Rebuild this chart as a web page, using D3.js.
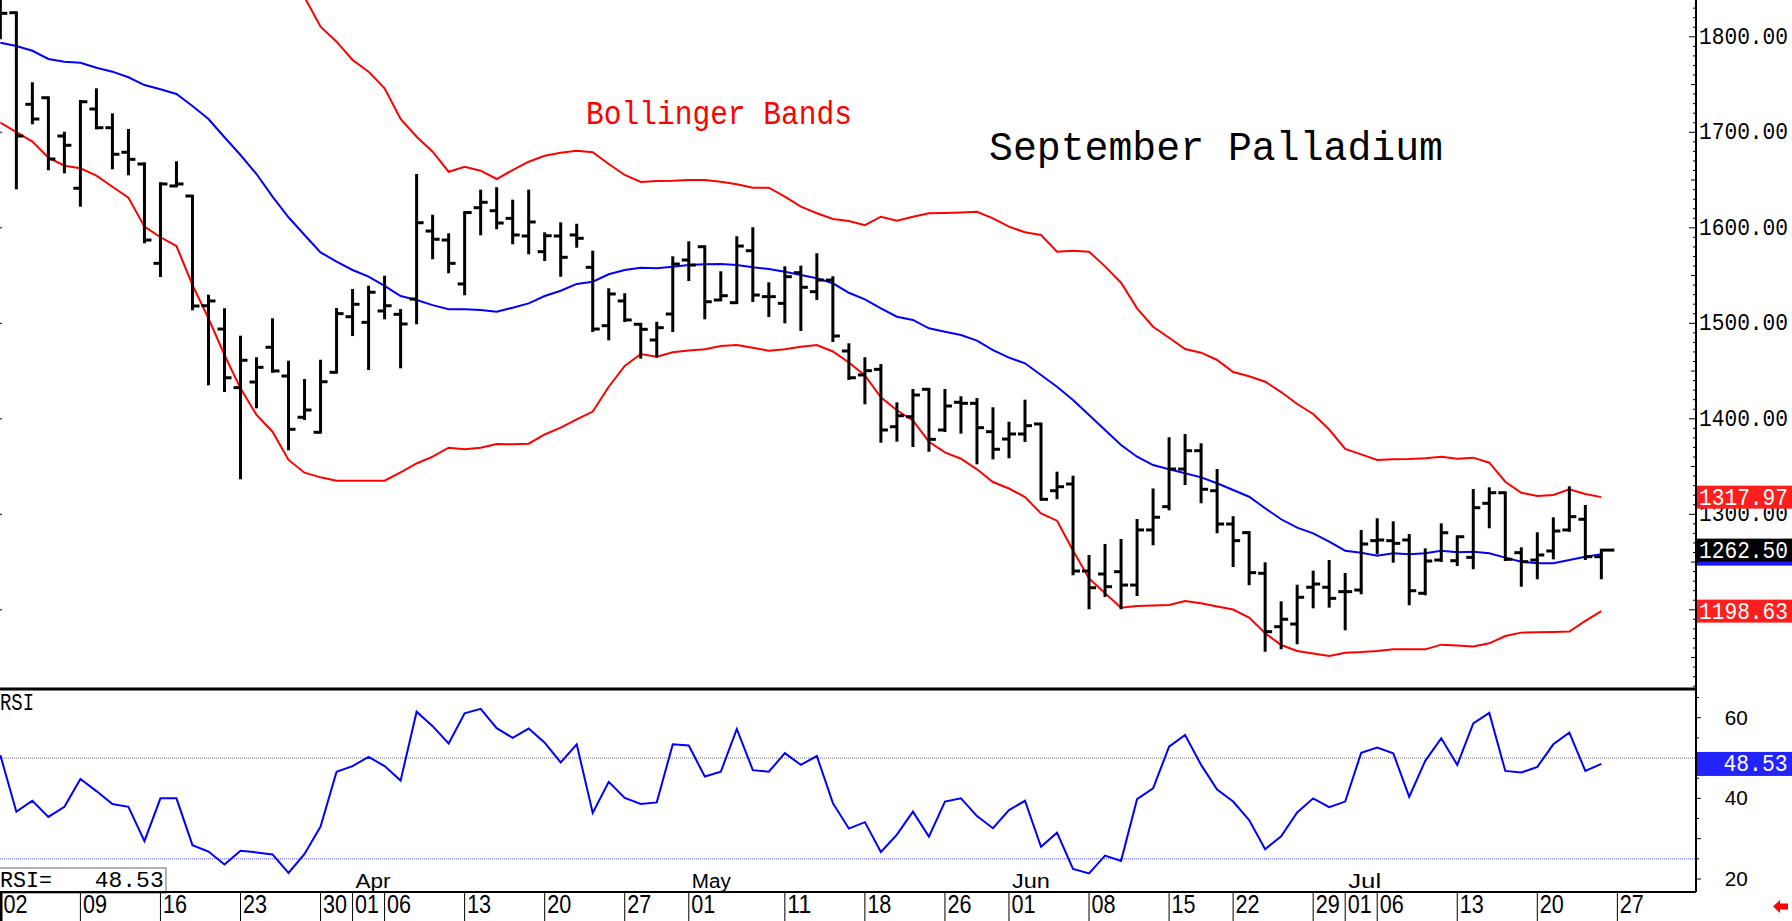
<!DOCTYPE html>
<html><head><meta charset="utf-8">
<script src="https://cdn.jsdelivr.net/npm/d3@7"></script>
<style>html,body{margin:0;padding:0;background:#fff;overflow:hidden}</style>
</head><body>
<svg id="chart" width="1792" height="921"></svg>
<script>
// ---------------- DATA ----------------
const opens  = [1832,1825.2,1729.3,1736.2,1696.1,1641.4,1724.4,1704.8,1679.1,1666.8,1562.8,1643.8,1633.3,1518.4,1494.0,1432.6,1438.5,1474.9,1444.8,1401.6,1385.9,1448.7,1506.9,1501.0,1512.9,1509.4,1525.4,1596.6,1587.2,1541.2,1621.0,1617.9,1609.9,1591.4,1575.0,1591.4,1592.5,1558.6,1497.5,1523.4,1499.0,1482.5,1509.7,1566.3,1580.2,1524.4,1521.6,1576.0,1527.9,1520.9,1553.0,1533.1,1545.3,1471.0,1445.9,1451.8,1391.7,1402.2,1430.9,1388.3,1417.3,1416.2,1386.5,1378.8,1384.1,1394.6,1324.7,1331.7,1240.6,1237.5,1239.9,1225.9,1283.6,1308.0,1347.4,1366.6,1324.7,1289.8,1280.8,1238.2,1182.3,1185.1,1223.6,1223.6,1219.0,1220.7,1272.4,1272.4,1273.1,1217.3,1252.1,1251.4,1254.9,1311.5,1322.6,1259.8,1252.1,1261.6,1283.6,1294.8,1255.6];
const highs  = [1845,1825.2,1751.3,1736.2,1699.6,1732.8,1745.0,1718.8,1702.4,1667.5,1646.6,1668.6,1633.3,1528.9,1514.7,1486.0,1463.4,1504.2,1459.8,1440.6,1460.8,1515.0,1534.9,1538.3,1548.8,1513.9,1655.3,1612.7,1593.2,1616.0,1638.9,1641.4,1628.4,1638.9,1594.2,1604.7,1603.2,1575.0,1535.6,1530.4,1499.3,1500.6,1569.1,1584.8,1580.2,1553.4,1590.1,1599.5,1541.9,1558.6,1559.3,1572.3,1548.2,1478.0,1463.4,1456.3,1416.2,1430.2,1431.2,1430.2,1422.5,1420.7,1411.0,1395.9,1419.0,1394.6,1343.6,1339.4,1256.3,1267.9,1273.1,1294.0,1326.0,1379.6,1383.0,1373.3,1346.4,1296.9,1281.2,1248.7,1207.8,1225.2,1239.9,1251.1,1237.5,1282.5,1294.8,1291.6,1278.3,1263.3,1289.5,1276.5,1325.4,1327.2,1322.6,1264.4,1280.1,1295.8,1328.3,1308.7,1262.6];
const lows   = [1798.4,1641.4,1709.4,1661.3,1658.1,1623.1,1704.2,1662.3,1656.0,1584.8,1549.5,1643.8,1514.7,1436.1,1429.1,1337.7,1412.0,1449.3,1368.1,1399.8,1385.9,1448.7,1487.7,1452.1,1505.2,1453.9,1500.0,1568.1,1553.4,1530.4,1593.2,1599.5,1583.8,1573.3,1566.3,1549.8,1580.2,1491.9,1483.2,1502.4,1464.0,1465.0,1491.9,1545.3,1505.2,1524.4,1521.6,1523.4,1507.6,1501.0,1493.0,1525.4,1481.5,1441.7,1416.2,1376.0,1377.1,1371.5,1366.6,1387.2,1385.5,1353.4,1358.6,1359.7,1376.8,1315.7,1316.8,1237.2,1201.6,1214.5,1201.6,1215.5,1268.6,1305.2,1331.7,1312.6,1281.2,1245.9,1226.8,1157.2,1159.7,1164.9,1202.6,1203.3,1179.6,1217.3,1259.2,1250.4,1205.8,1216.2,1251.1,1246.9,1243.5,1286.4,1252.1,1225.2,1233.0,1253.9,1282.8,1253.2,1233.0];
const closes = [1824.6,1696.1,1713.9,1672.0,1686.4,1732.0,1704.8,1677.0,1671.7,1587.2,1645.9,1645.9,1518.1,1523.4,1443.0,1461.3,1453.9,1450.1,1389.0,1409.2,1438.8,1510.1,1519.9,1532.5,1518.4,1499.3,1605.3,1588.0,1562.8,1616.0,1626.7,1605.0,1592.5,1606.1,1591.7,1569.1,1589.0,1494.0,1530.7,1503.5,1493.7,1495.4,1562.1,1561.0,1522.6,1528.9,1580.9,1529.6,1527.9,1548.8,1537.7,1545.3,1486.7,1443.0,1450.4,1388.3,1403.2,1424.9,1378.5,1413.4,1416.2,1390.7,1368.1,1384.1,1392.8,1315.7,1328.9,1240.6,1223.1,1224.2,1225.9,1283.6,1296.9,1347.4,1366.6,1326.2,1289.8,1272.4,1238.9,1177.1,1190.1,1213.1,1227.0,1212.0,1219.0,1268.9,1273.1,1269.6,1220.0,1251.1,1280.7,1276.5,1306.9,1322.6,1252.9,1250.4,1257.4,1282.5,1297.5,1255.6,1262.5];

const bbUpper  = [1877.5,1880.5,1880.6,1880.2,1882.8,1883.5,1880.6,1884.0,1883.7,1897.8,1899.9,1899.3,1914.9,1922.6,1922.8,1920.5,1908.6,1878.7,1865.1,1841.4,1810.6,1794.9,1775.7,1763.5,1746.1,1713.9,1695.4,1679.7,1658.7,1664.0,1659.8,1651.1,1660.5,1669.2,1675.5,1678.6,1680.7,1679.1,1666.8,1655.3,1648.0,1649.0,1649.3,1650.1,1650.1,1648.3,1645.5,1642.0,1642.0,1632.6,1622.1,1615.2,1609.2,1607.1,1602.8,1611.6,1607.4,1611.5,1615.2,1615.5,1616.0,1616.8,1609.9,1601.2,1595.3,1592.5,1575.0,1576.0,1575.0,1559.6,1542.5,1515.7,1496.4,1484.9,1473.1,1469.2,1461.6,1449.0,1444.5,1438.8,1428.0,1415.5,1405.0,1388.8,1368.4,1362.8,1356.9,1357.6,1357.9,1358.6,1360.3,1358.2,1359.3,1354.0,1334.1,1322.6,1319.2,1320.2,1326.2,1321.3,1317.97];
const bbMiddle = [1793.8,1790.4,1785.4,1776.8,1773.9,1772.9,1767.6,1763.5,1757.6,1749.5,1745.0,1740.1,1727.5,1713.9,1694.8,1676.2,1656.3,1632.6,1611.0,1592.5,1574.3,1564.5,1555.8,1548.8,1539.1,1528.6,1524.4,1519.0,1514.7,1514.7,1513.9,1512.1,1516.3,1520.9,1528.6,1534.1,1541.2,1543.6,1551.3,1555.8,1558.2,1557.6,1559.3,1561.0,1561.8,1562.1,1561.0,1558.6,1556.9,1554.0,1550.6,1547.1,1541.9,1532.0,1525.1,1515.7,1506.9,1503.5,1494.8,1491.2,1487.7,1481.8,1472.0,1464.0,1458.1,1445.9,1433.6,1419.7,1404.0,1388.3,1372.6,1360.3,1351.6,1347.1,1342.9,1338.7,1332.5,1325.4,1318.4,1306.3,1294.8,1286.0,1280.1,1271.3,1261.9,1259.8,1256.6,1259.2,1258.1,1259.2,1261.9,1260.2,1260.8,1259.2,1254.6,1250.4,1248.7,1248.7,1252.1,1255.6,1258.3];
const bbLower  = [1710.1,1700.3,1690.2,1673.4,1665.0,1662.3,1654.6,1643.0,1631.5,1601.2,1590.1,1580.9,1540.1,1505.2,1466.8,1431.9,1404.0,1386.5,1356.9,1343.6,1338.7,1335.2,1335.2,1335.2,1335.2,1344.0,1353.2,1360.4,1369.7,1368.1,1369.8,1373.6,1373.3,1373.9,1383.6,1390.7,1399.5,1407.6,1433.6,1455.3,1467.9,1465.0,1469.6,1471.5,1472.8,1476.2,1477.3,1474.5,1471.3,1472.8,1475.5,1477.3,1470.5,1459.0,1445.5,1422.5,1408.9,1398.2,1376.0,1364.9,1358.2,1347.1,1333.8,1327.0,1318.1,1300.8,1293.3,1262.1,1232.8,1217.3,1202.2,1204.0,1204.5,1205.0,1209.2,1206.8,1203.5,1200.3,1191.9,1175.4,1163.1,1156.9,1154.2,1151.6,1155.1,1155.8,1156.9,1158.6,1158.6,1158.6,1163.5,1162.5,1161.6,1164.9,1172.6,1176.1,1176.5,1176.8,1177.2,1188.4,1198.63];

const rsiValues = [50.7,36.7,39.4,35.4,37.9,44.8,41.8,38.6,37.9,29.4,40.0,40.0,28.4,26.8,23.6,27.0,26.6,26.1,21.5,26.2,33.0,46.6,48.0,50.3,48.0,44.4,61.5,57.9,53.6,61.1,62.2,57.4,55.0,57.3,53.8,48.9,53.4,36.4,44.1,40.1,38.6,39.0,53.4,53.1,45.4,46.6,57.2,47.0,46.6,51.2,48.3,50.5,38.8,32.5,34.1,26.7,31.0,36.7,30.5,39.2,40.0,35.6,32.6,37.1,39.4,28.0,31.5,22.5,21.4,25.8,24.5,39.8,42.5,52.8,55.7,48.3,42.2,39.2,34.6,27.4,30.6,36.5,40.0,37.8,39.2,51.3,52.6,51.2,40.4,49.3,54.9,48.3,58.6,61.2,46.8,46.4,47.8,53.4,56.3,46.8,48.53];

const tickIndex  = [0,5,10,15,20,22,24,29,34,39,43,49,54,59,63,68,73,77,82,84,86,91,96,101];
const tickLabels = ["02","09","16","23","30","01","06","13","20","27","01","11","18","26","01","08","15","22","29","01","06","13","20","27"];
const monthIndex  = [22,43,63,84];
const monthLabels = ["Apr","May","Jun","Jul"];
const monthWidths = [35,39,38,33];
const priceTicks = [1200,1300,1400,1500,1600,1700,1800];
const rsiTicks = [20,40,60];
const rsiLevels = [50,25];
const titleText = "September Palladium";
const bandsText = "Bollinger Bands";

// ---------------- LAYOUT ----------------
const svg = d3.select("#chart");
const AX = 1696;            // right axis x
const P_TOP = 0, P_BOT = 689, R_BOT = 892;
const x = d3.scaleLinear().domain([0,100]).range([0.35, 0.35 + 16.01*100]);
const y = d3.scaleLinear().domain([1200,1400]).range([609.8, 418.8]);
const yr = d3.scaleLinear().domain([20,60]).range([879, 717.7]);

const MONO = "'Liberation Mono','DejaVu Sans Mono',monospace";
const SANS = "'Liberation Sans Narrow','Liberation Sans',Arial,sans-serif";

function txt(g, tx, ty, s, size, fam, fill, len){
  const t = g.append("text").attr("x",tx).attr("y",ty).text(s)
    .attr("font-size",size).attr("font-family",fam).attr("fill",fill);
  if(len){ t.attr("textLength",len).attr("lengthAdjust","spacingAndGlyphs"); }
  return t;
}

const defs = svg.append("defs");
defs.append("clipPath").attr("id","pclip").append("rect")
  .attr("x",0).attr("y",P_TOP).attr("width",AX).attr("height",P_BOT-1);
defs.append("clipPath").attr("id","rclip").append("rect")
  .attr("x",0).attr("y",P_BOT+2).attr("width",AX).attr("height",R_BOT-P_BOT-3);

// ---------------- PRICE PANEL ----------------
const pg = svg.append("g").attr("clip-path","url(#pclip)");
const idx = d3.range(opens.length);

// texts
txt(svg, 586, 123.5, bandsText, 33, MONO, "#ff0000", 266);
txt(svg, 989, 160, titleText, 41, MONO, "#000", 454);

const line = arr => d3.line().x((d,i)=>x(i)).y(d=>y(d))(arr);
pg.append("path").attr("d",line(bbUpper)).attr("fill","none").attr("stroke","#ff0000").attr("stroke-width",2);
pg.append("path").attr("d",line(bbLower)).attr("fill","none").attr("stroke","#ff0000").attr("stroke-width",2);
pg.append("path").attr("d",line(bbMiddle)).attr("fill","none").attr("stroke","#0000ff").attr("stroke-width",2);

// OHLC bars
const bars = pg.append("g").attr("stroke","#000").attr("stroke-width",3).attr("fill","none");
idx.forEach(i=>{
  const cx = x(i);
  bars.append("line").attr("x1",cx).attr("x2",cx).attr("y1",y(highs[i])-1).attr("y2",y(lows[i])+1);
  bars.append("line").attr("x1",cx-7).attr("x2",cx+1).attr("y1",y(opens[i])).attr("y2",y(opens[i]));
  const cl = (i===opens.length-1) ? 13 : 7;
  bars.append("line").attr("x1",cx-1).attr("x2",cx+cl).attr("y1",y(closes[i])).attr("y2",y(closes[i]));
});

// left edge small ticks
priceTicks.forEach(v=>{
  svg.append("line").attr("x1",0).attr("x2",2).attr("y1",y(v)).attr("y2",y(v)).attr("stroke","#000").attr("stroke-width",1);
});

// right price axis ticks
for(let v=1120; v<=1840; v+=10){
  const yy = y(v); if(yy<1||yy>P_BOT-2) continue;
  const len = v%100===0 ? 7 : (v%50===0 ? 5 : 3);
  svg.append("line").attr("x1",AX-len).attr("x2",AX).attr("y1",yy).attr("y2",yy).attr("stroke","#000").attr("stroke-width",1);
}
priceTicks.forEach(v=>{
  txt(svg, 1699, y(v)+6.7, v.toFixed(2), 23.5, MONO, "#000", 89);
});

// value boxes on the price axis
function box(v, fill, label, textFill){
  const yy = y(v);
  svg.append("rect").attr("x",AX+1).attr("y",yy-11.5).attr("width",1792-AX-1).attr("height",23).attr("fill",fill);
  if(label) txt(svg, 1699, yy+7.5, label, 23.5, MONO, textFill, 89);
}
const last = opens.length-1;
box(bbUpper[last], "#ff1e1e", bbUpper[last].toFixed(2), "#fff");
box(bbMiddle[last], "#1a1aff", null, "#fff");
box(closes[last], "#000", closes[last].toFixed(2), "#fff");
box(bbLower[last], "#ff1e1e", bbLower[last].toFixed(2), "#fff");

// separator between panels
svg.append("line").attr("x1",0).attr("x2",AX).attr("y1",P_BOT).attr("y2",P_BOT).attr("stroke","#000").attr("stroke-width",3);

// ---------------- RSI PANEL ----------------
const rg = svg.append("g").attr("clip-path","url(#rclip)");
rg.append("line").attr("x1",0).attr("x2",AX).attr("y1",yr(rsiLevels[0])).attr("y2",yr(rsiLevels[0]))
  .attr("stroke","#6e6e6e").attr("stroke-width",1).attr("stroke-dasharray","1,1");
rg.append("line").attr("x1",0).attr("x2",AX).attr("y1",yr(rsiLevels[1])).attr("y2",yr(rsiLevels[1]))
  .attr("stroke","#5a5aff").attr("stroke-width",1).attr("stroke-dasharray","1,1");
rg.append("path").attr("d", d3.line().x((d,i)=>x(i)).y(d=>yr(d))(rsiValues))
  .attr("fill","none").attr("stroke","#0000ff").attr("stroke-width",2);

txt(svg, 0, 710, "RSI", 23, MONO, "#000", 34);

// rsi axis ticks
for(let v=15; v<=65; v+=5){
  const yy = yr(v); if(yy<P_BOT+2||yy>R_BOT-2) continue;
  const len = v%10===0 ? 5 : 3;
  svg.append("line").attr("x1",AX).attr("x2",AX+len).attr("y1",yy).attr("y2",yy).attr("stroke","#000").attr("stroke-width",1);
}
rsiTicks.forEach(v=>{
  txt(svg, 1724.7, yr(v)+7, String(v), 21, SANS, "#000", 23);
});
// rsi value box
const rLast = rsiValues[rsiValues.length-1];
svg.append("rect").attr("x",AX+1).attr("y",yr(rLast)-12).attr("width",1792-AX-1).attr("height",24).attr("fill","#2323ff");
txt(svg, 1723.5, yr(rLast)+7.5, rLast.toFixed(2), 23, MONO, "#fff", 64);

// RSI= box
svg.append("rect").attr("x",-1).attr("y",868).attr("width",167).attr("height",25).attr("fill","#fff").attr("stroke","#666").attr("stroke-width",1);
txt(svg, 0, 887, "RSI=", 22, MONO, "#000", 52);
txt(svg, 94.7, 887, rLast.toFixed(2), 22, MONO, "#000", 69);

// month labels
monthIndex.forEach((mi,k)=>{
  txt(svg, x(mi)+3, 888, monthLabels[k], 19.5, SANS, "#000", monthWidths[k]);
});

// ---------------- DATE AXIS ----------------
svg.append("line").attr("x1",0).attr("x2",AX).attr("y1",R_BOT).attr("y2",R_BOT).attr("stroke","#000").attr("stroke-width",2);
tickIndex.forEach((ti,k)=>{
  const tx = Math.max(1, x(ti));
  svg.append("line").attr("x1",tx).attr("x2",tx).attr("y1",R_BOT).attr("y2",921).attr("stroke","#000").attr("stroke-width", ti===0?3:1);
  txt(svg, tx+2.5, 913, tickLabels[k], 25, SANS, "#000", 24);
});

// right axis line
svg.append("line").attr("x1",AX).attr("x2",AX).attr("y1",0).attr("y2",R_BOT).attr("stroke","#000").attr("stroke-width",2);

// small red arrow at bottom right
svg.append("path").attr("d","M1773,906.5 L1780,900 L1780,903.5 L1788,903.5 L1788,909.5 L1780,909.5 L1780,913 Z").attr("fill","#ff0000");
</script>
</body></html>
